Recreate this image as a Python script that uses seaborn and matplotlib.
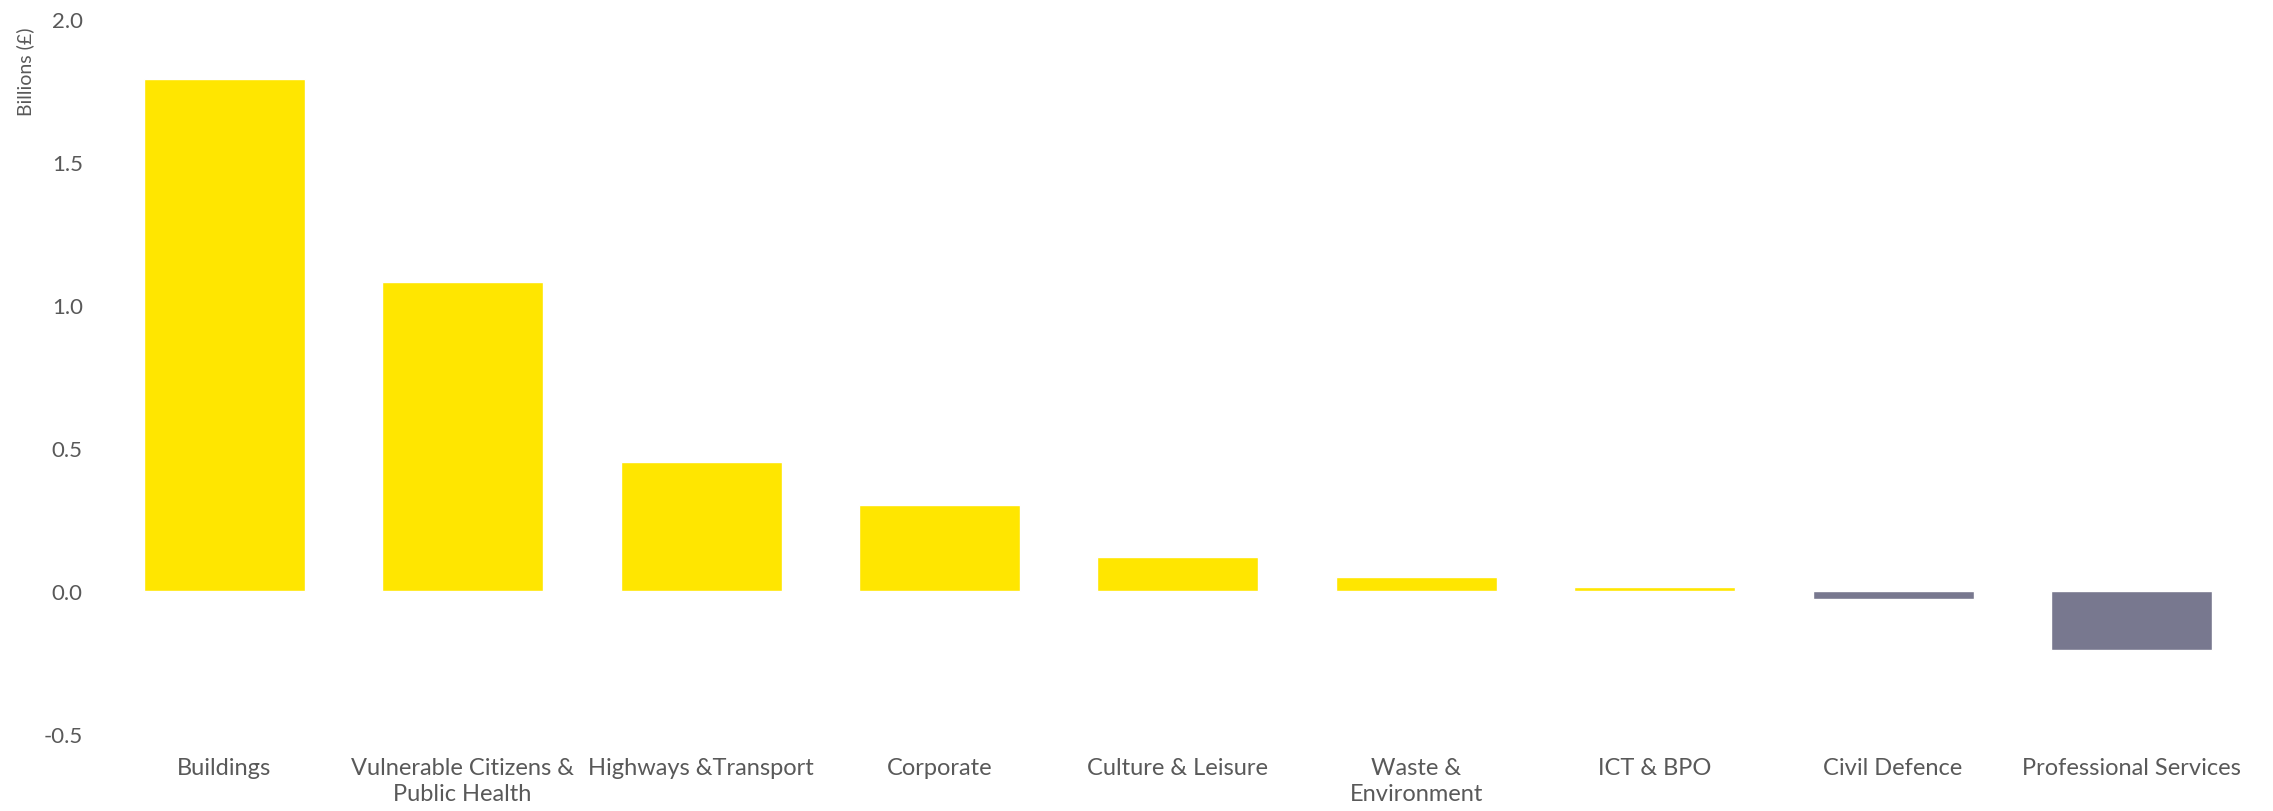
import matplotlib
matplotlib.use("Agg")
import matplotlib.pyplot as plt
import seaborn as sns

# data (billions of pounds)
categories = ["Buildings", "Vulnerable Citizens &\nPublic Health", "Highways &Transport",
              "Corporate", "Culture & Leisure", "Waste &\nEnvironment", "ICT & BPO",
              "Civil Defence", "Professional Services"]
values = [1.79, 1.08, 0.45, 0.30, 0.12, 0.048, 0.015, -0.028, -0.207]
signs = ["pos" if v >= 0 else "neg" for v in values]

palette = {"pos": "#FFE600", "neg": "#78788F"}
text_grey = "#595959"

sns.set_style("white")
plt.rcParams["font.family"] = ["Lato", "DejaVu Sans"]

fig = plt.figure(figsize=(22.73, 8.12), dpi=100)
ax = fig.add_axes([0.0462, 0.095, 0.944, 0.88])

sns.barplot(x=categories, y=values, hue=signs, palette=palette, dodge=False,
            legend=False, width=0.675, saturation=1, ax=ax)

ax.set_xlim(-0.5, 8.5)
ax.set_ylim(-0.5, 2.0)
ax.set_yticks([-0.5, 0.0, 0.5, 1.0, 1.5, 2.0])
ax.set_yticklabels(["-0.5", "0.0", "0.5", "1.0", "1.5", "2.0"],
                   fontsize=16, color=text_grey)
ax.tick_params(axis="y", length=0, pad=16)
ax.tick_params(axis="x", length=0, pad=17, labelsize=17, labelcolor=text_grey)
for lbl in ax.get_xticklabels():
    lbl.set_linespacing(1.25)
ax.set_xlabel("")
ax.set_ylabel("")
sns.despine(ax=ax, left=True, bottom=True)

fig.text(0.011, 0.966, "Billions (£)", rotation=90, va="top", ha="center",
         fontsize=14, color=text_grey)

fig.savefig("out.png", dpi=100)
